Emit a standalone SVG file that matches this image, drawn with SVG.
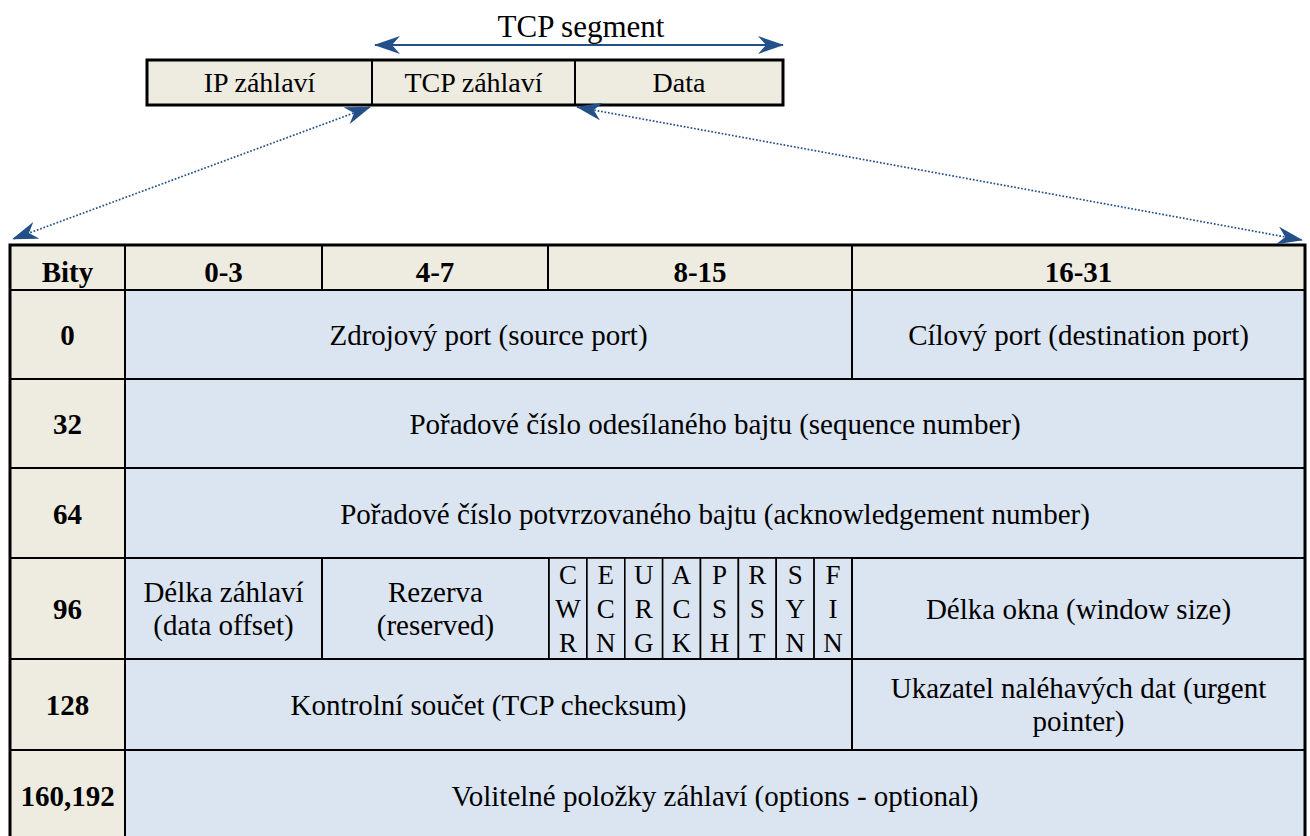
<svg xmlns="http://www.w3.org/2000/svg" width="1310" height="836" viewBox="0 0 1310 836">
  <style>
    text { font-family: "Liberation Serif", "DejaVu Serif", serif; fill: #000; text-anchor: middle; }
    .seg { font-size: 28px; }
    .title { font-size: 31px; }
    .hdr { font-size: 29px; font-weight: bold; }
    .body { font-size: 29px; }
    .flag { font-size: 27px; }
    .beige { fill: #EEECE1; stroke: #000; stroke-width: 2; }
    .blue { fill: #DBE5F1; stroke: #000; stroke-width: 2; }
    .flagcell { fill: #DBE5F1; stroke: #000; stroke-width: 1.6; }
    .frame { fill: none; stroke: #000; stroke-width: 3; }
    .solid { stroke: #24508A; stroke-width: 2.2; fill: none; }
    .dotted { stroke: #24508A; stroke-width: 1.7; stroke-dasharray: 1.7 1.8; fill: none; }
  </style>
  <defs>
    <marker id="stealth" markerUnits="userSpaceOnUse" viewBox="0 0 26 18" markerWidth="26" markerHeight="18" refX="25" refY="9" orient="auto-start-reverse">
      <path d="M0 0 L26 9 L0 18 L8 9 Z" fill="#24508A"/>
    </marker>
  </defs>
  <rect width="1310" height="836" fill="#fff"/>

  <!-- segment bar: IP header | TCP header | data -->
  <g id="ip-header">
    <rect class="beige" x="147" y="60" width="225" height="45"/>
    <text class="seg" x="259.5" y="92">IP záhlaví</text>
  </g>
  <g id="tcp-header">
    <rect class="beige" x="372" y="60" width="203" height="45"/>
    <text class="seg" x="473.5" y="92">TCP záhlaví</text>
  </g>
  <g id="data">
    <rect class="beige" x="575" y="60" width="208" height="45"/>
    <text class="seg" x="679" y="92">Data</text>
  </g>
  <rect class="frame" x="147" y="60" width="636" height="45"/>
  <g id="tcp-segment-label">
    <text class="title" x="581" y="37">TCP segment</text>
  </g>

  <!-- header table: column headings -->
  <g id="h-bity"><rect class="beige" x="10" y="245" width="115" height="45"/><text class="hdr" x="67.5" y="282">Bity</text></g>
  <g id="h-0-3"><rect class="beige" x="125" y="245" width="197" height="45"/><text class="hdr" x="223.5" y="282">0-3</text></g>
  <g id="h-4-7"><rect class="beige" x="322" y="245" width="226" height="45"/><text class="hdr" x="435" y="282">4-7</text></g>
  <g id="h-8-15"><rect class="beige" x="548" y="245" width="304" height="45"/><text class="hdr" x="700" y="282">8-15</text></g>
  <g id="h-16-31"><rect class="beige" x="852" y="245" width="453" height="45"/><text class="hdr" x="1078.5" y="282">16-31</text></g>

  <!-- row offsets -->
  <g id="r-0"><rect class="beige" x="10" y="290" width="115" height="89"/><text class="hdr" x="67.5" y="345">0</text></g>
  <g id="r-32"><rect class="beige" x="10" y="379" width="115" height="89"/><text class="hdr" x="67.5" y="434">32</text></g>
  <g id="r-64"><rect class="beige" x="10" y="468" width="115" height="90"/><text class="hdr" x="67.5" y="524">64</text></g>
  <g id="r-96"><rect class="beige" x="10" y="558" width="115" height="101"/><text class="hdr" x="67.5" y="619">96</text></g>
  <g id="r-128"><rect class="beige" x="10" y="659" width="115" height="91"/><text class="hdr" x="67.5" y="715">128</text></g>
  <g id="r-160"><rect class="beige" x="10" y="750" width="115" height="92"/><text class="hdr" x="67.5" y="806">160,192</text></g>

  <!-- fields -->
  <g id="source-port"><rect class="blue" x="125" y="290" width="727" height="89"/><text class="body" x="488.5" y="345">Zdrojový port (source port)</text></g>
  <g id="destination-port"><rect class="blue" x="852" y="290" width="453" height="89"/><text class="body" x="1078.5" y="345">Cílový port (destination port)</text></g>
  <g id="sequence-number"><rect class="blue" x="125" y="379" width="1180" height="89"/><text class="body" x="715" y="434">Pořadové číslo odesílaného bajtu (sequence number)</text></g>
  <g id="ack-number"><rect class="blue" x="125" y="468" width="1180" height="90"/><text class="body" x="715" y="524">Pořadové číslo potvrzovaného bajtu (acknowledgement number)</text></g>
  <g id="data-offset"><rect class="blue" x="125" y="558" width="197" height="101"/><text class="body" x="223.5" y="602">Délka záhlaví</text><text class="body" x="223.5" y="635">(data offset)</text></g>
  <g id="reserved"><rect class="blue" x="322" y="558" width="227" height="101"/><text class="body" x="435.5" y="602">Rezerva</text><text class="body" x="435.5" y="635">(reserved)</text></g>

  <g id="flag-cwr"><rect class="flagcell" x="549" y="558" width="37.9" height="101"/><text class="flag" x="567.9" y="584">C</text><text class="flag" x="567.9" y="618">W</text><text class="flag" x="567.9" y="652">R</text></g>
  <g id="flag-ecn"><rect class="flagcell" x="586.9" y="558" width="37.9" height="101"/><text class="flag" x="605.8" y="584">E</text><text class="flag" x="605.8" y="618">C</text><text class="flag" x="605.8" y="652">N</text></g>
  <g id="flag-urg"><rect class="flagcell" x="624.8" y="558" width="37.9" height="101"/><text class="flag" x="643.7" y="584">U</text><text class="flag" x="643.7" y="618">R</text><text class="flag" x="643.7" y="652">G</text></g>
  <g id="flag-ack"><rect class="flagcell" x="662.6" y="558" width="37.9" height="101"/><text class="flag" x="681.6" y="584">A</text><text class="flag" x="681.6" y="618">C</text><text class="flag" x="681.6" y="652">K</text></g>
  <g id="flag-psh"><rect class="flagcell" x="700.5" y="558" width="37.9" height="101"/><text class="flag" x="719.4" y="584">P</text><text class="flag" x="719.4" y="618">S</text><text class="flag" x="719.4" y="652">H</text></g>
  <g id="flag-rst"><rect class="flagcell" x="738.4" y="558" width="37.9" height="101"/><text class="flag" x="757.3" y="584">R</text><text class="flag" x="757.3" y="618">S</text><text class="flag" x="757.3" y="652">T</text></g>
  <g id="flag-syn"><rect class="flagcell" x="776.2" y="558" width="37.9" height="101"/><text class="flag" x="795.2" y="584">S</text><text class="flag" x="795.2" y="618">Y</text><text class="flag" x="795.2" y="652">N</text></g>
  <g id="flag-fin"><rect class="flagcell" x="814.1" y="558" width="37.9" height="101"/><text class="flag" x="833.1" y="584">F</text><text class="flag" x="833.1" y="618">I</text><text class="flag" x="833.1" y="652">N</text></g>

  <g id="window-size"><rect class="blue" x="852" y="558" width="453" height="101"/><text class="body" x="1078.5" y="619">Délka okna (window size)</text></g>
  <g id="checksum"><rect class="blue" x="125" y="659" width="727" height="91"/><text class="body" x="488.5" y="715">Kontrolní součet (TCP checksum)</text></g>
  <g id="urgent-pointer"><rect class="blue" x="852" y="659" width="453" height="91"/><text class="body" x="1078.5" y="698">Ukazatel naléhavých dat (urgent</text><text class="body" x="1078.5" y="731">pointer)</text></g>
  <g id="options"><rect class="blue" x="125" y="750" width="1180" height="92"/><text class="body" x="715" y="806">Volitelné položky záhlaví (options - optional)</text></g>

  <!-- outer frame of the header table -->
  <rect class="frame" x="10" y="245" width="1295" height="600"/>

  <g id="connectors">
    <line class="solid" x1="375" y1="45" x2="783" y2="45" marker-start="url(#stealth)" marker-end="url(#stealth)"/>
    <line class="dotted" x1="370" y1="107" x2="13" y2="239" marker-start="url(#stealth)" marker-end="url(#stealth)"/>
    <line class="dotted" x1="577" y1="107" x2="1302" y2="240" marker-start="url(#stealth)" marker-end="url(#stealth)"/>
  </g>
</svg>
